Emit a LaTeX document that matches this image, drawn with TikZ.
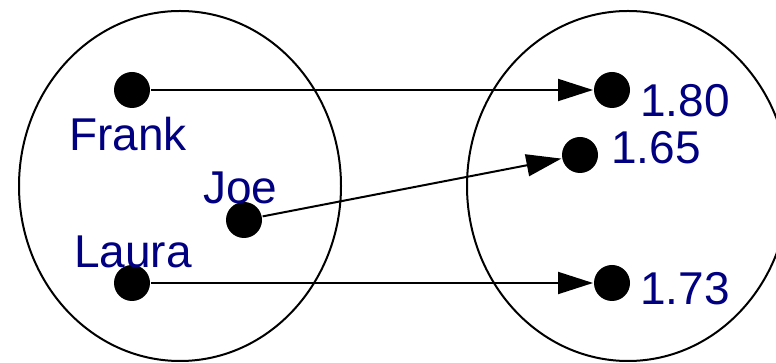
\documentclass[tikz,border=0pt]{standalone}
\usepackage{fontspec}
\setmainfont{Liberation Sans}
\usetikzlibrary{arrows.meta}
\definecolor{labelblue}{RGB}{0,0,128}
\tikzset{
  dot/.style={circle,fill=black,minimum size=36pt,inner sep=0pt,outer sep=1pt},
  lbl/.style={anchor=base west,inner sep=0pt,text=labelblue,font=\fontsize{46}{50}\selectfont},
  conn/.style={line width=2pt,-{Triangle[length=35pt,width=22pt]}},
  setline/.style={line width=2pt}
}
\begin{document}
\begin{tikzpicture}[x=1pt,y=1pt]
\useasboundingbox (0,0) rectangle (776,363);
\draw[setline] (180,177) ellipse [x radius=161, y radius=175];
\draw[setline] (628,177) ellipse [x radius=161, y radius=175];
\node[dot] (frank) at (132,273) {};
\node[dot] (joe) at (244,143) {};
\node[dot] (laura) at (132,80) {};
\node[dot] (h180) at (612,273) {};
\node[dot] (h165) at (580,208) {};
\node[dot] (h173) at (612,80) {};
\node[lbl] (tfrank) at (69,212) {Frank};
\node[lbl] (tjoe) at (203,159) {Joe};
\node[lbl] (tlaura) at (74,95) {Laura};
\node[lbl] (t180) at (640,246) {1.80};
\node[lbl] (t165) at (611,199) {1.65};
\node[lbl] (t173) at (640,58) {1.73};
\draw[conn] (frank) -- (h180);
\draw[conn] (joe) -- (h165);
\draw[conn] (laura) -- (h173);
\end{tikzpicture}
\end{document}
